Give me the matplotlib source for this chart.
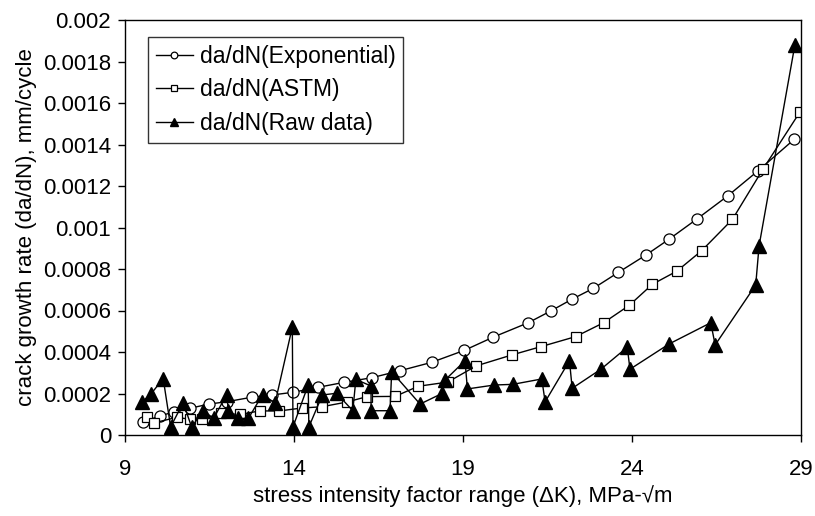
import matplotlib
matplotlib.use("Agg")
import matplotlib.pyplot as plt
from matplotlib.ticker import FixedLocator, MultipleLocator, FuncFormatter

plt.rcParams["font.family"] = ["Liberation Sans", "DejaVu Sans"]

# da/dN(Exponential)
dk_exp = [9.54, 10.04, 10.46, 10.92, 11.49, 12.03, 12.75, 13.36, 13.98, 14.72,
          15.49, 16.30, 17.14, 18.07, 19.04, 19.90, 20.93, 21.60, 22.22, 22.86,
          23.60, 24.41, 25.10, 25.93, 26.83, 27.72, 28.80]
rate_exp = [0.000064, 0.000092, 0.000112, 0.000129, 0.000149, 0.000161, 0.000182,
            0.000193, 0.000206, 0.000230, 0.000254, 0.000276, 0.000310, 0.000350,
            0.000408, 0.000472, 0.000541, 0.000598, 0.000654, 0.000707, 0.000784,
            0.000867, 0.000944, 0.001042, 0.001152, 0.001272, 0.001425]

# da/dN(ASTM)
dk_astm = [9.64, 9.87, 10.53, 10.92, 11.27, 11.84, 12.39, 12.99, 13.57, 14.23,
           14.82, 15.57, 16.16, 16.99, 17.68, 18.55, 19.39, 20.45, 21.31, 22.33,
           23.16, 23.92, 24.60, 25.33, 26.06, 26.97, 27.87, 28.97]
rate_astm = [0.000085, 0.000059, 0.000085, 0.000076, 0.000075, 0.000105, 0.000099,
             0.000116, 0.000116, 0.000130, 0.000136, 0.000159, 0.000185, 0.000186,
             0.000235, 0.000255, 0.000333, 0.000386, 0.000426, 0.000474, 0.000541,
             0.000625, 0.000726, 0.000790, 0.000888, 0.001039, 0.001280, 0.001557]

# da/dN(Raw data)
dk_raw = [9.51, 9.77, 10.13, 10.35, 10.72, 10.97, 11.32, 11.62, 12.01, 12.06,
          12.35, 12.65, 13.07, 13.44, 13.95, 13.97, 14.42, 14.44, 14.84, 15.26,
          15.74, 15.83, 16.28, 16.28, 16.84, 16.89, 17.73, 18.39, 18.47, 19.06,
          19.13, 19.93, 20.47, 21.33, 21.43, 22.15, 22.23, 23.08, 23.86, 23.94,
          25.10, 26.33, 26.46, 27.66, 27.76, 28.82]
rate_raw = [0.000160, 0.000198, 0.000272, 0.000039, 0.000156, 0.000039, 0.000116,
            0.000080, 0.000195, 0.000116, 0.000080, 0.000080, 0.000195, 0.000154,
            0.000520, 0.000039, 0.000241, 0.000039, 0.000193, 0.000201, 0.000117,
            0.000268, 0.000236, 0.000117, 0.000117, 0.000305, 0.000149, 0.000201,
            0.000265, 0.000358, 0.000222, 0.000241, 0.000244, 0.000270, 0.000160,
            0.000358, 0.000225, 0.000317, 0.000423, 0.000317, 0.000439, 0.000541,
            0.000434, 0.000723, 0.000912, 0.001881]

x_ticks = [9, 14, 19, 24, 29]

fig = plt.figure(figsize=(8.15, 5.16), dpi=100)
ax = fig.add_axes([125 / 815, 81 / 516, 676 / 815, 415 / 516])

ax.plot(dk_exp, rate_exp, color="black", lw=1.0, marker="o", ms=8,
        mfc="white", mec="black", mew=0.9, label="da/dN(Exponential)")
ax.plot(dk_astm, rate_astm, color="black", lw=1.0, marker="s", ms=7.5,
        mfc="white", mec="black", mew=0.9, label="da/dN(ASTM)")
ax.plot(dk_raw, rate_raw, color="black", lw=1.0, marker="^", ms=10,
        mfc="black", mec="black", label="da/dN(Raw data)")

ax.set_xlim(9, 29)
ax.set_ylim(0, 0.002)
ax.xaxis.set_major_locator(FixedLocator(x_ticks))
ax.yaxis.set_major_locator(MultipleLocator(0.0002))
ax.yaxis.set_major_formatter(FuncFormatter(lambda v, p: "%g" % round(v, 6)))
ax.tick_params(direction="out", length=5, width=1, labelsize=16, colors="black")
ax.tick_params(axis="x", pad=12)
ax.tick_params(axis="y", pad=5)
for s in ax.spines.values():
    s.set_linewidth(1.0)
    s.set_color("black")

ax.set_xlabel("stress intensity factor range (\u0394K), MPa-\u221am", fontsize=16, labelpad=4)
ax.set_ylabel("crack growth rate (da/dN), mm/cycle", fontsize=16, labelpad=4)

leg = ax.legend(loc="upper left", bbox_to_anchor=(0.034, 0.959), borderaxespad=0,
                fontsize=16.5, frameon=True, fancybox=False, edgecolor="black",
                markerscale=0.6, handlelength=1.6, handletextpad=0.3,
                labelspacing=0.45, borderpad=0.35)
leg.get_frame().set_linewidth(1.0)

fig.savefig("out.png", dpi=100)
